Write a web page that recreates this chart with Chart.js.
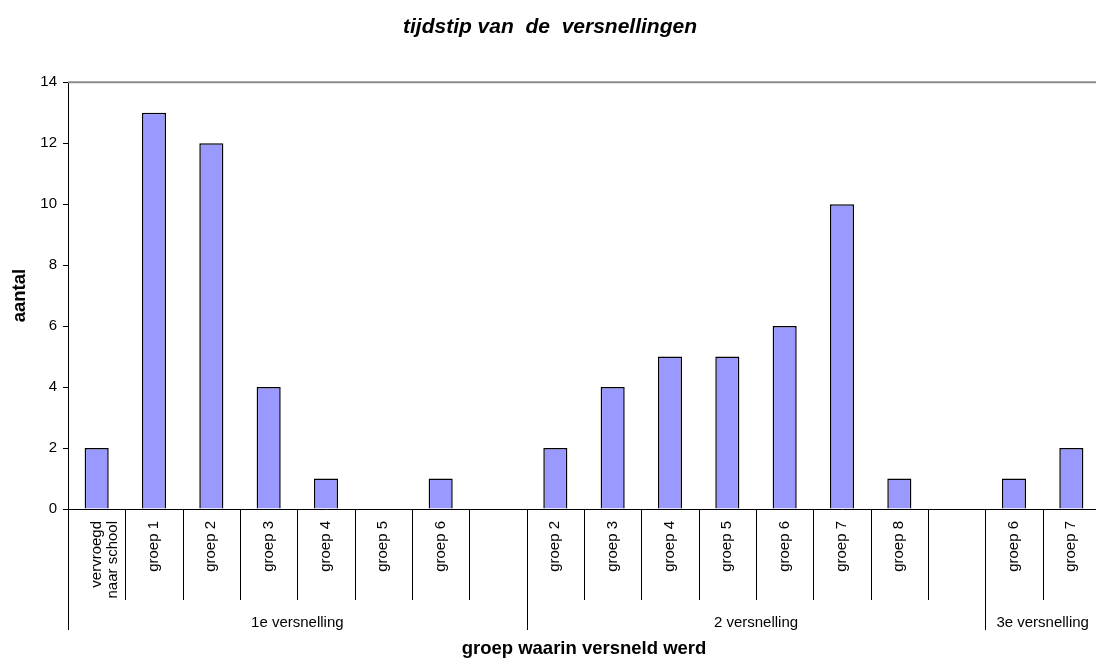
<!DOCTYPE html>
<html>
<head>
<meta charset="utf-8">
<script src="https://cdn.jsdelivr.net/npm/chart.js@4/dist/chart.umd.min.js"></script>
<style>
  html, body { margin:0; padding:0; background:#fff; overflow:hidden; }
  #wrap { position:relative; width:1100px; height:660px; }
</style>
</head>
<body>
<div id="wrap"><canvas id="chart"></canvas></div>
<script>
// categories along the x axis (empty strings are the gaps between groups)
const categories = [
    ['vervroegd', 'naar school'], 'groep 1', 'groep 2', 'groep 3', 'groep 4', 'groep 5', 'groep 6', '',
    'groep 2', 'groep 3', 'groep 4', 'groep 5', 'groep 6', 'groep 7', 'groep 8', '',
    'groep 6', 'groep 7'
];
const counts = [2, 13, 12, 4, 1, 0, 1, null, 2, 4, 5, 5, 6, 10, 1, null, 1, 2];

// second level labels and how many categories each one spans
const groupLabels = ['1e versnelling', '2 versnelling', '3e versnelling'];
const groupSizes = [8, 8, 2];

const yMax = 14;
const yStep = 2;

const FONT = "'Liberation Sans', Arial, sans-serif";

// draws the category separators, the group labels and the grey top line
const groupAxisPlugin = {
    id: 'groupAxis',
    afterDraw(chart) {
        const ctx = chart.ctx;
        const xs = chart.scales.x;
        const area = chart.chartArea;
        const top = area.bottom;

        ctx.save();
        // top border of plot area
        ctx.strokeStyle = '#8c8c8c';
        ctx.lineWidth = 2;
        ctx.beginPath();
        ctx.moveTo(area.left, area.top);
        ctx.lineTo(area.right, area.top);
        ctx.stroke();

        // boundaries between the groups
        const groupBounds = [0];
        groupSizes.forEach(n => groupBounds.push(groupBounds[groupBounds.length - 1] + n));

        ctx.strokeStyle = '#000';
        ctx.lineWidth = 1;
        for (let b = 0; b <= categories.length; b++) {
            const x = Math.round(xs.getPixelForValue(b - 0.5)) + 0.5;
            const len = groupBounds.includes(b) ? 121 : 91;
            ctx.beginPath();
            ctx.moveTo(x, top);
            ctx.lineTo(x, top + len);
            ctx.stroke();
        }

        ctx.fillStyle = '#000';
        ctx.font = '15px ' + FONT;
        ctx.textAlign = 'center';
        ctx.textBaseline = 'middle';
        groupLabels.forEach((lab, i) => {
            const x0 = xs.getPixelForValue(groupBounds[i] - 0.5);
            const x1 = xs.getPixelForValue(groupBounds[i + 1] - 0.5);
            ctx.fillText(lab, (x0 + x1) / 2, top + 114);
        });
        ctx.restore();
    }
};

const ctx = document.getElementById('chart').getContext('2d');
new Chart(ctx, {
    type: 'bar',
    data: {
        labels: categories,
        datasets: [{
            data: counts,
            backgroundColor: '#9999ff',
            borderColor: '#000',
            borderWidth: 1.5,
            barPercentage: 0.42,
            categoryPercentage: 1
        }]
    },
    options: {
        responsive: true,
        maintainAspectRatio: false,
        animation: false,
        layout: { padding: 0 },
        plugins: {
            legend: { display: false },
            tooltip: { enabled: false },
            title: {
                display: true,
                text: 'tijdstip van  de  versnellingen',
                color: '#000',
                font: { family: FONT, size: 21, weight: 'bold', style: 'italic' },
                padding: { top: 15, bottom: 42 }
            }
        },
        scales: {
            x: {
                grid: { display: false, drawTicks: false },
                border: { display: true, color: '#000', width: 1 },
                ticks: {
                    autoSkip: false,
                    minRotation: 90,
                    maxRotation: 90,
                    padding: 12,
                    color: '#000',
                    font: { family: FONT, size: 15, lineHeight: 1.1 }
                },
                title: {
                    display: true,
                    text: 'groep waarin versneld werd',
                    color: '#000',
                    font: { family: FONT, size: 18.5, weight: 'bold' },
                    padding: { top: 0, bottom: 0 }
                },
                afterFit(scale) { scale.height = 151; }
            },
            y: {
                min: 0,
                max: yMax,
                grid: { drawOnChartArea: false, drawTicks: true, tickLength: 5, color: '#000' },
                border: { display: true, color: '#000', width: 1 },
                ticks: {
                    stepSize: yStep,
                    padding: 6,
                    color: '#000',
                    font: { family: FONT, size: 15 }
                },
                title: {
                    display: true,
                    text: 'aantal',
                    color: '#000',
                    font: { family: FONT, size: 18.5, weight: 'bold' },
                    padding: { top: 9, bottom: 0 }
                },
                afterFit(scale) { scale.width = 68; }
            }
        }
    },
    plugins: [groupAxisPlugin]
});
</script>
</body>
</html>
